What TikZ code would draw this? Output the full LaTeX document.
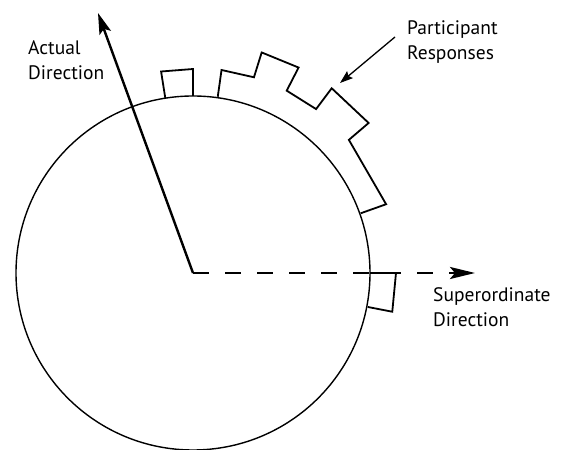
\documentclass[tikz,border=0pt]{standalone}
\usepackage{fontspec}
\setmainfont{PT Sans}
\usetikzlibrary{arrows.meta,calc}
\begin{document}
\begin{tikzpicture}[x=1pt,y=1pt,
  lbl/.style={inner sep=0pt,align=left,anchor=base west,font=\fontsize{19.5}{25}\selectfont},
  circ/.style={line width=1.4pt},
  bars/.style={line width=1.8pt,line join=miter},
  actual/.style={line width=2.4pt,-{Stealth[length=21pt,width=12pt,inset=4pt]}},
  super/.style={line width=2.8pt,dash pattern=on 16pt off 16pt,-{Stealth[length=25pt,width=12pt,inset=5pt]}},
  pointer/.style={line width=1.3pt,-{Stealth[length=13pt,width=9pt,inset=2pt]}}]
\useasboundingbox (0,0) rectangle (566,450);
\coordinate (c) at (193,177);
\coordinate (tipA) at (98,437);
\coordinate (tipS) at (475,177);
\coordinate (pstart) at (395,413);
\coordinate (pend) at (340,367);
% circle
\draw[circ] (c) circle[radius=177];
% histogram bars
\draw[bars] ($(c)+(99:177)$) -- ($(c)+(99:204)$) -- ($(c)+(90:204)$) -- ($(c)+(90:177)$);
\draw[bars] ($(c)+(82:178)$) -- ($(c)+(82:205)$) -- ($(c)+(72.7:205)$) -- ($(c)+(72.7:231)$)
  -- ($(c)+(62.8:231)$) -- ($(c)+(62.8:205)$) -- ($(c)+(53.1:205)$) -- ($(c)+(53.1:231)$)
  -- ($(c)+(40.5:231)$) -- ($(c)+(40.5:205)$) -- ($(c)+(19.6:205)$) -- ($(c)+(19.6:178)$);
\draw[bars] ($(c)+(0:177)$) -- ($(c)+(0:203)$) -- ($(c)+(-11:203)$) -- ($(c)+(-11:178)$);
% arrows
\draw[actual] (c) -- (tipA);
\draw[super] (c) -- (tipS);
\draw[pointer] (pstart) -- (pend);
% labels (anchor at baseline of last line)
\node[lbl] (actlbl) at (28,370) {Actual\\Direction};
\node[lbl] (partlbl) at (407,390) {Participant\\Responses};
\node[lbl] (suplbl) at (433,123) {Superordinate\\Direction};
\end{tikzpicture}
\end{document}
